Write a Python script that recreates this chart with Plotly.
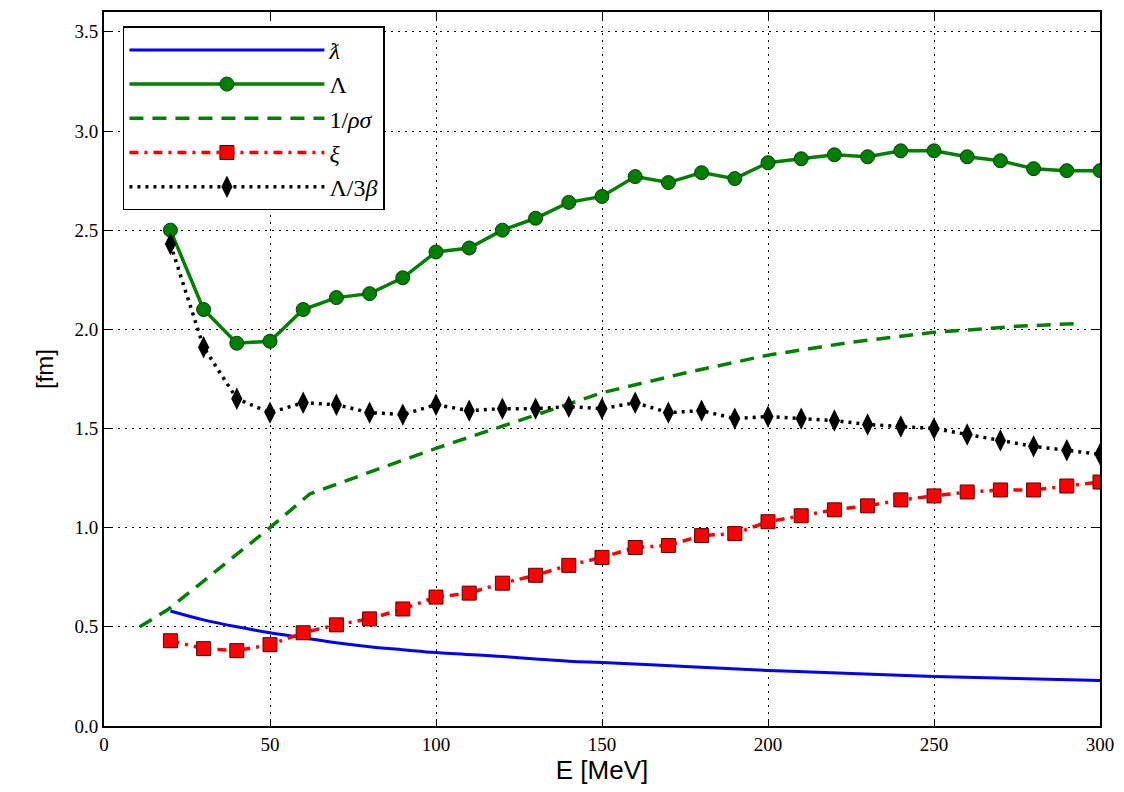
import plotly.graph_objects as go

# ---- data ----
E = [20, 30, 40, 50, 60, 70, 80, 90, 100, 110, 120, 130, 140, 150, 160,
     170, 180, 190, 200, 210, 220, 230, 240, 250, 260, 270, 280, 290, 300]

lam_bar_E = [20, 30, 40, 50, 60, 70, 80, 90, 100, 120, 140, 150, 175, 200,
             225, 250, 275, 300]
lam_bar = [0.58, 0.535, 0.50, 0.47, 0.445, 0.42, 0.40, 0.385, 0.37, 0.35,
           0.327, 0.32, 0.30, 0.28, 0.265, 0.25, 0.24, 0.23]

Lam = [2.50, 2.10, 1.93, 1.94, 2.10, 2.16, 2.18, 2.26, 2.39, 2.41, 2.50, 2.56,
       2.64, 2.67, 2.77, 2.74, 2.79, 2.76, 2.84, 2.86, 2.88, 2.87, 2.90, 2.90,
       2.87, 2.85, 2.81, 2.80, 2.80]

rs_E = [10.8, 19.5, 50, 62, 85, 100, 125, 150, 175, 200, 225, 250, 275, 294]
rs = [0.50, 0.59, 1.00, 1.17, 1.31, 1.40, 1.54, 1.68, 1.78, 1.87, 1.935,
      1.985, 2.015, 2.03]

xi = [0.43, 0.39, 0.38, 0.41, 0.47, 0.51, 0.54, 0.59, 0.65, 0.67, 0.72, 0.76,
      0.81, 0.85, 0.90, 0.91, 0.96, 0.97, 1.03, 1.06, 1.09, 1.11, 1.14, 1.16,
      1.18, 1.19, 1.19, 1.21, 1.23]

Lam3b = [2.43, 1.91, 1.65, 1.58, 1.63, 1.62, 1.58, 1.57, 1.62, 1.59, 1.60,
         1.60, 1.61, 1.60, 1.63, 1.58, 1.59, 1.55, 1.56, 1.55, 1.54, 1.52,
         1.51, 1.50, 1.47, 1.44, 1.41, 1.39, 1.37]

x_ticks = [0, 50, 100, 150, 200, 250, 300]
y_ticks = [0.0, 0.5, 1.0, 1.5, 2.0, 2.5, 3.0, 3.5]

names = ["<i>ƛ</i>", "Λ", "1/<i>ρσ</i>", "<i>ξ</i>", "Λ/3<i>β</i>"]

GREEN = "#008000"

fig = go.Figure()
fig.add_trace(go.Scatter(x=lam_bar_E, y=lam_bar, mode="lines", name=names[0],
                         line=dict(color="#0000ff", width=3, shape="spline")))
fig.add_trace(go.Scatter(x=E, y=Lam, mode="lines+markers", name=names[1],
                         line=dict(color=GREEN, width=3.5),
                         marker=dict(symbol="circle", size=14, color=GREEN,
                                     line=dict(color="#0a3a0a", width=1))))
fig.add_trace(go.Scatter(x=rs_E, y=rs, mode="lines", name=names[2],
                         line=dict(color=GREEN, width=3.5, dash="14px,9px")))
fig.add_trace(go.Scatter(x=E, y=xi, mode="lines+markers", name=names[3],
                         line=dict(color="#ff0000", width=3.5,
                                   dash="9px,6px,3px,6px"),
                         marker=dict(symbol="square", size=14, color="#ff0000",
                                     line=dict(color="#5a0000", width=1))))
fig.add_trace(go.Scatter(x=E, y=Lam3b, mode="lines+markers", name=names[4],
                         line=dict(color="#000000", width=3.5, dash="3px,5px"),
                         marker=dict(symbol="diamond-tall", size=16,
                                     color="#000000")))

axis_common = dict(
    showline=True, linecolor="black", linewidth=2, mirror="ticks",
    ticks="inside", ticklen=7, tickcolor="black", tickwidth=1,
    showgrid=True, gridcolor="black", gridwidth=1, griddash="2px,5px",
    zeroline=False,
    tickfont=dict(family="Liberation Serif", size=19, color="black"),
)

fig.update_xaxes(range=[0, 300], tickvals=x_ticks,
                 ticktext=[str(v) for v in x_ticks],
                 title=dict(text="E [MeV]", standoff=6,
                            font=dict(family="Liberation Sans", size=26,
                                      color="black")),
                 **axis_common)
fig.update_yaxes(range=[0, 3.6], tickvals=y_ticks,
                 ticktext=[f"{v:.1f}" for v in y_ticks],
                 title=dict(text="[fm]", standoff=14,
                            font=dict(family="Liberation Sans", size=24,
                                      color="black")),
                 **axis_common)

fig.update_layout(
    width=1124, height=792,
    margin=dict(l=104, r=21, t=10, b=66),
    paper_bgcolor="white", plot_bgcolor="white",
    showlegend=True,
    legend=dict(x=0.019, y=0.98, xanchor="left", yanchor="top",
                bgcolor="white", bordercolor="black", borderwidth=1.5,
                itemwidth=195,
                font=dict(family="Liberation Serif", size=24, color="black"),
                tracegroupgap=0),
)

fig.write_html("out.html")
